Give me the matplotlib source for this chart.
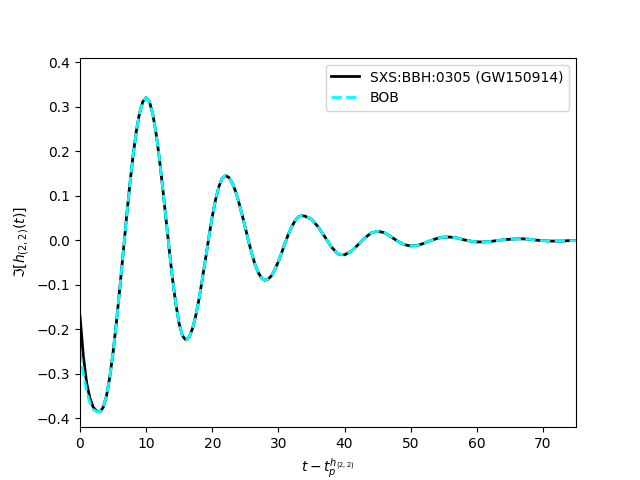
import numpy as np
import matplotlib
matplotlib.use("Agg")
import matplotlib.pyplot as plt

# times: half-unit steps up to 33.5, unit steps after
t_fine = np.arange(0, 34, 0.5)
t_coarse = np.arange(34, 76, 1.0)
t = np.concatenate([t_fine, t_coarse])

nr_fine = [-0.170, -0.260, -0.320, -0.355, -0.375, -0.384, -0.385,
           -0.376, -0.350, -0.308, -0.252, -0.185, -0.111, -0.033,
           0.046, 0.120, 0.187, 0.243, 0.285, 0.311, 0.320,
           0.311, 0.284, 0.240, 0.184, 0.118, 0.048, -0.022,
           -0.088, -0.144, -0.188, -0.215, -0.224,
           -0.218, -0.199, -0.170, -0.132, -0.087, -0.040, 0.008,
           0.053, 0.091, 0.120, 0.139, 0.145,
           0.141, 0.129, 0.111, 0.086, 0.058, 0.028, -0.003,
           -0.031, -0.056, -0.074, -0.086, -0.090,
           -0.087, -0.079, -0.065, -0.048, -0.028, -0.007, 0.013,
           0.030, 0.043, 0.052, 0.055]
nr_coarse = [0.054, 0.047, 0.030, 0.008, -0.015, -0.031, -0.033, -0.025,
             -0.011, 0.004, 0.016, 0.020, 0.017, 0.008, -0.002, -0.010,
             -0.013, -0.012, -0.007, -0.001, 0.004, 0.007, 0.007, 0.005,
             0.001, -0.002, -0.004, -0.004, -0.003, -0.001, 0.001, 0.002,
             0.003, 0.003, 0.002, 0.000, -0.001, -0.002, -0.002, -0.002,
             -0.001, -0.001]
nr = np.array(nr_fine + nr_coarse)

# BOB differs only near t=0
bob_start = [-0.250, -0.300, -0.340, -0.365, -0.380, -0.385, -0.385]
bob = np.concatenate([bob_start, nr[len(bob_start):]])

plt.figure(figsize=(6.4, 4.8), dpi=100)
plt.plot(t, nr, color="black", lw=2, label="SXS:BBH:0305 (GW150914)")
plt.plot(t, bob, color="cyan", lw=2, ls="--", label="BOB")
plt.xlim(0, 75)
plt.ylim(-0.42, 0.41)
plt.xlabel(r"$t - t_p^{h_{(2,2)}}$")
plt.ylabel(r"$\Im[h_{(2,2)}(t)]$")
plt.legend(loc="upper right")
plt.savefig("out.png")
